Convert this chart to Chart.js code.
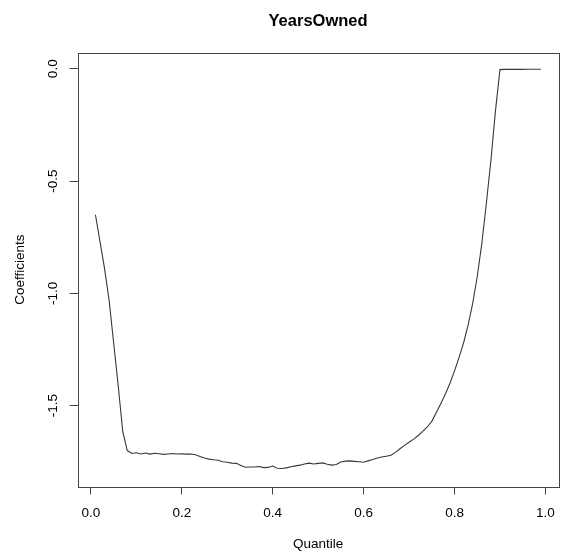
<!DOCTYPE html>
<html>
<head>
<meta charset="utf-8">
<title>YearsOwned</title>
<script src="https://cdn.jsdelivr.net/npm/chart.js@4.4.1/dist/chart.umd.min.js"></script>
<style>
  html, body { margin: 0; padding: 0; background: #fff; }
  #wrap { width: 566px; height: 559px; }
</style>
</head>
<body>
<div id="wrap"><canvas id="qrChart" width="566" height="559"></canvas></div>
<script>
// quantile regression coefficients for YearsOwned
var quantiles = [
  0.01, 0.02, 0.03, 0.04, 0.05, 0.06, 0.07, 0.08, 0.09, 0.10,
  0.11, 0.12, 0.13, 0.14, 0.15, 0.16, 0.17, 0.18, 0.19, 0.20,
  0.21, 0.22, 0.23, 0.24, 0.25, 0.26, 0.27, 0.28, 0.29, 0.30,
  0.31, 0.32, 0.33, 0.34, 0.35, 0.36, 0.37, 0.38, 0.39, 0.40,
  0.41, 0.42, 0.43, 0.44, 0.45, 0.46, 0.47, 0.48, 0.49, 0.50,
  0.51, 0.52, 0.53, 0.54, 0.55, 0.56, 0.57, 0.58, 0.59, 0.60,
  0.61, 0.62, 0.63, 0.64, 0.65, 0.66, 0.67, 0.68, 0.69, 0.70,
  0.71, 0.72, 0.73, 0.74, 0.75, 0.76, 0.77, 0.78, 0.79, 0.80,
  0.81, 0.82, 0.83, 0.84, 0.85, 0.86, 0.87, 0.88, 0.89, 0.90,
  0.91, 0.92, 0.93, 0.94, 0.95, 0.96, 0.97, 0.98, 0.99
];
var coefficients = [
  -0.650, -0.770, -0.890, -1.030, -1.220, -1.410, -1.615, -1.700, -1.713, -1.710,
  -1.715, -1.711, -1.716, -1.712, -1.714, -1.717, -1.715, -1.713, -1.715, -1.714,
  -1.716, -1.715, -1.719, -1.726, -1.733, -1.738, -1.741, -1.743, -1.750, -1.752,
  -1.756, -1.757, -1.767, -1.774, -1.773, -1.773, -1.771, -1.776, -1.775, -1.769,
  -1.779, -1.780, -1.777, -1.772, -1.768, -1.765, -1.760, -1.756, -1.760, -1.757,
  -1.755, -1.761, -1.765, -1.762, -1.751, -1.747, -1.746, -1.748, -1.750, -1.752,
  -1.746, -1.740, -1.733, -1.729, -1.725, -1.721, -1.708, -1.692, -1.677, -1.663,
  -1.649, -1.633, -1.615, -1.595, -1.570, -1.530, -1.490, -1.448, -1.400, -1.345,
  -1.285, -1.220, -1.140, -1.045, -0.925, -0.780, -0.600, -0.410, -0.190, -0.004,
  -0.003, -0.003, -0.003, -0.003, -0.003, -0.002, -0.002, -0.002, -0.002
];
var xTicks = [0, 0.2, 0.4, 0.6, 0.8, 1.0];
var yTicks = [-1.5, -1.0, -0.5, 0];

var FONT = '"Liberation Sans", Arial, Helvetica, sans-serif';

// R-style box round the plot region
var boxPlugin = {
  id: 'box',
  afterDraw: function(chart) {
    var a = chart.chartArea, c = chart.ctx;
    c.save();
    c.strokeStyle = '#444';
    c.lineWidth = 1;
    c.strokeRect(Math.round(a.left) + 0.5, Math.round(a.top) + 0.5,
                 Math.round(a.right - a.left), Math.round(a.bottom - a.top));
    c.restore();
  }
};

var ctx = document.getElementById('qrChart').getContext('2d');
var qrChart = new Chart(ctx, {
  type: 'line',
  data: {
    datasets: [{
      label: 'YearsOwned',
      data: quantiles.map((q, i) => ({ x: q, y: coefficients[i] })),
      borderColor: '#383838',
      borderWidth: 1.1,
      pointRadius: 0,
      tension: 0,
      fill: false
    }]
  },
  plugins: [boxPlugin],
  options: {
    responsive: false,
    animation: false,
    layout: { padding: { left: 0, right: 5, top: 0, bottom: 0 } },
    plugins: {
      legend: { display: false },
      tooltip: { enabled: false },
      title: {
        display: true,
        text: 'YearsOwned',
        color: '#000',
        fullSize: false,
        font: { family: FONT, size: 16.5, weight: 'bold' },
        padding: { top: 12, bottom: 21 }
      }
    },
    scales: {
      x: {
        type: 'linear',
        min: -0.0295,
        max: 1.029,
        afterBuildTicks: s => { s.ticks = xTicks.map(v => ({ value: v })); },
        afterFit: s => { s.height = 72.5; },
        border: { display: false },
        grid: { drawOnChartArea: false, drawTicks: true, tickLength: 8, color: '#444' },
        ticks: {
          color: '#000',
          padding: 11,
          maxRotation: 0,
          font: { family: FONT, size: 13.5 },
          callback: v => v.toFixed(1)
        },
        title: {
          display: true,
          text: 'Quantile',
          color: '#000',
          font: { family: FONT, size: 13.5 },
          padding: { top: 0, bottom: 7 }
        }
      },
      y: {
        min: -1.86,
        max: 0.071,
        afterBuildTicks: s => { s.ticks = yTicks.map(v => ({ value: v })); },
        afterFit: s => { s.width = 77.5; },
        border: { display: false },
        grid: { drawOnChartArea: false, drawTicks: true, tickLength: 8, color: '#444' },
        ticks: {
          color: '#000',
          padding: 5,
          minRotation: 90,
          maxRotation: 90,
          crossAlign: 'center',
          font: { family: FONT, size: 13.5 },
          callback: v => v.toFixed(1)
        },
        title: {
          display: true,
          text: 'Coefficients',
          color: '#000',
          font: { family: FONT, size: 13.5 },
          padding: { top: 12, bottom: 0 }
        }
      }
    }
  }
});
</script>
</body>
</html>
